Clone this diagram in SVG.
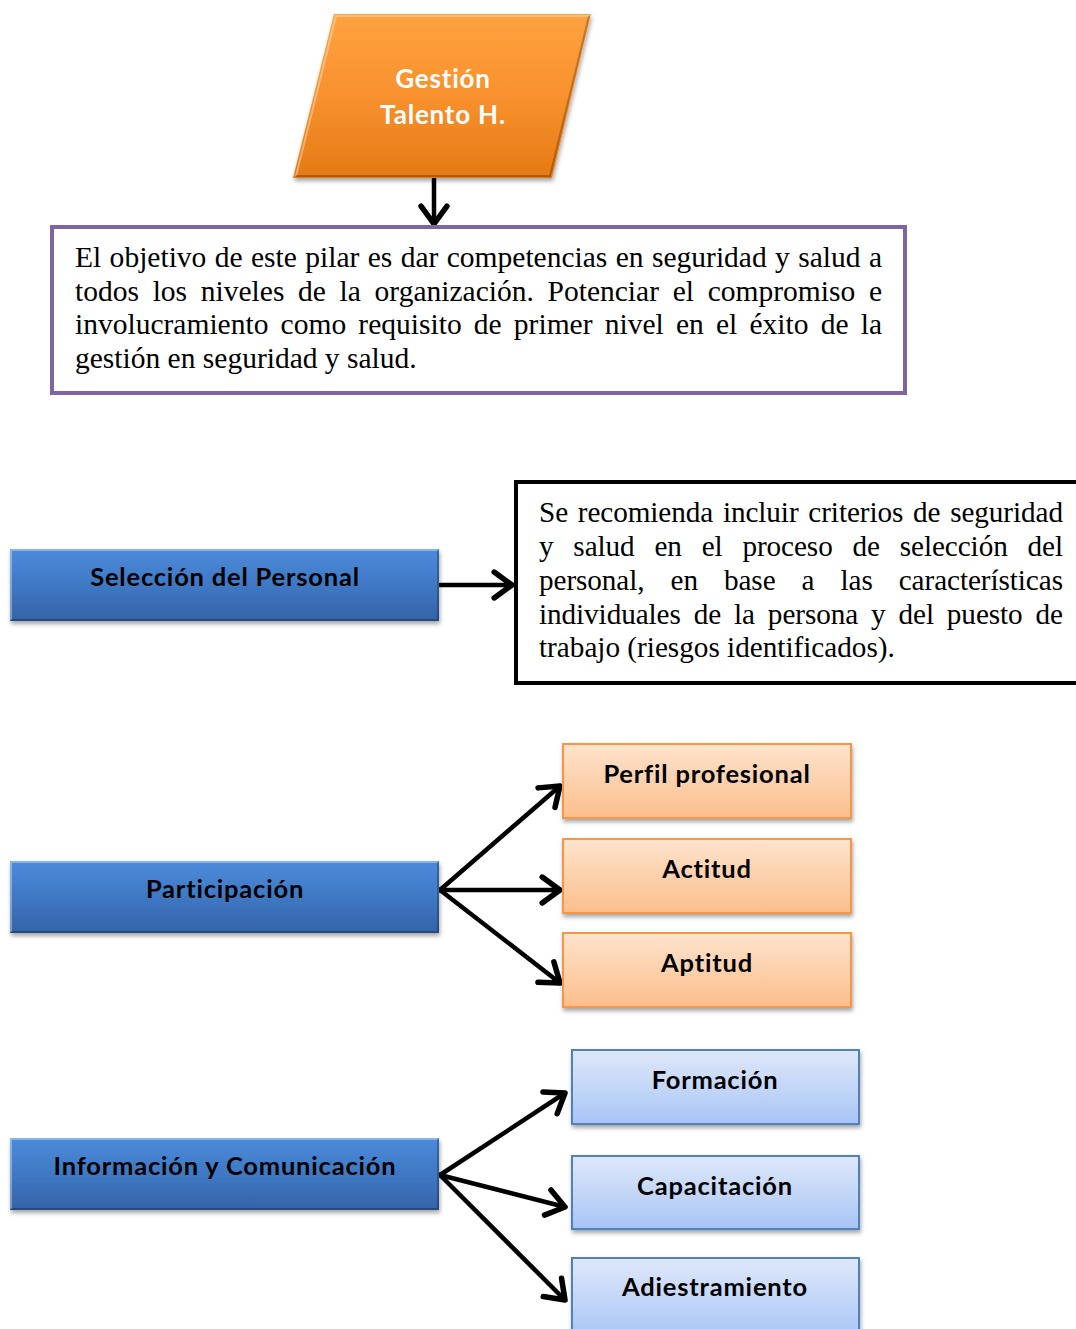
<svg xmlns="http://www.w3.org/2000/svg" width="1076" height="1329" viewBox="0 0 1076 1329">
  <defs>
    <linearGradient id="gOrange" x1="0" y1="0" x2="0" y2="1">
      <stop offset="0" stop-color="#FFA23F"/>
      <stop offset="0.5" stop-color="#F8912E"/>
      <stop offset="1" stop-color="#E57A14"/>
    </linearGradient>
    <linearGradient id="gBlue" x1="0" y1="0" x2="0" y2="1">
      <stop offset="0" stop-color="#4C8BDA"/>
      <stop offset="0.5" stop-color="#3F78C4"/>
      <stop offset="1" stop-color="#3463A8"/>
    </linearGradient>
    <linearGradient id="gPeach" x1="0" y1="0" x2="0" y2="1">
      <stop offset="0" stop-color="#FEE3CD"/>
      <stop offset="1" stop-color="#FBBE8C"/>
    </linearGradient>
    <linearGradient id="gSky" x1="0" y1="0" x2="0" y2="1">
      <stop offset="0" stop-color="#DFE8FA"/>
      <stop offset="1" stop-color="#A8C5F5"/>
    </linearGradient>
    <filter id="shadow" x="-10%" y="-20%" width="120%" height="150%">
      <feDropShadow dx="1" dy="3" stdDeviation="2" flood-color="#000" flood-opacity="0.35"/>
    </filter>
    <marker id="chev" viewBox="0 0 20 20" refX="17" refY="10" markerWidth="7.2" markerHeight="7.2" markerUnits="strokeWidth" orient="auto">
      <polyline points="6,2 17,10 6,18" fill="none" stroke="#000" stroke-width="3.4" stroke-linecap="round" stroke-linejoin="round"/>
    </marker>
    <style>
      .lbl { font-family: Lato, "Open Sans", "Liberation Sans", sans-serif; font-weight: bold; font-size: 25.5px; letter-spacing: 0.8px; text-anchor: middle; fill: #000; }
      .title { font-family: Lato, "Open Sans", "Liberation Sans", sans-serif; font-weight: bold; font-size: 26px; letter-spacing: 0.8px; text-anchor: middle; fill: #fff; }
      .body { font-family: "Liberation Serif", "Times New Roman", serif; font-size: 29.5px; fill: #000; }
      .body2 { font-family: "Liberation Serif", "Times New Roman", serif; font-size: 29.2px; fill: #000; }
      .bevelHi { fill: none; stroke: #ffffff; stroke-opacity: 0.35; stroke-width: 2; }
      .bevelLo { fill: none; stroke: #000000; stroke-opacity: 0.25; stroke-width: 2; }
      .conn { fill: none; stroke: #000; stroke-width: 4.5; stroke-linecap: round; marker-end: url(#chev); }
    </style>
  </defs>

  <rect width="1076" height="1329" fill="#ffffff"/>

  <!-- connectors -->
  <g id="connectors">
    <line class="conn" x1="434" y1="179" x2="434" y2="224"/>
    <line class="conn" x1="440" y1="585" x2="512" y2="585"/>
    <line class="conn" x1="440" y1="890" x2="560" y2="786"/>
    <line class="conn" x1="440" y1="890" x2="560" y2="890"/>
    <line class="conn" x1="440" y1="890" x2="560" y2="983"/>
    <line class="conn" x1="440" y1="1175" x2="565" y2="1093"/>
    <line class="conn" x1="440" y1="1175" x2="565" y2="1207"/>
    <line class="conn" x1="440" y1="1175" x2="565" y2="1300"/>
  </g>

  <!-- top parallelogram -->
  <g id="gestion">
    <polygon points="334,14 591,14 552,178 293,178" fill="url(#gOrange)" filter="url(#shadow)"/>
    <polyline class="bevelHi" points="296,176 336,16 589,16"/>
    <polyline class="bevelLo" points="589,16 550,176 296,176"/>
    <text class="title" x="443" y="88">Gestión</text>
    <text class="title" x="443" y="124">Talento H.</text>
  </g>

  <!-- objective box -->
  <g id="objetivo">
    <rect x="52" y="227" width="853" height="166" fill="#fff" stroke="#8064A2" stroke-width="4"/>
    <text class="body" x="75" y="267" word-spacing="1" textLength="807" lengthAdjust="spacing">El objetivo de este pilar es dar competencias en seguridad y salud a</text>
    <text class="body" x="75" y="301" word-spacing="6.3" textLength="807" lengthAdjust="spacing">todos los niveles de la organización. Potenciar el compromiso e</text>
    <text class="body" x="75" y="334" word-spacing="4.8" textLength="807" lengthAdjust="spacing">involucramiento como requisito de primer nivel en el éxito de la</text>
    <text class="body" x="75" y="368">gestión en seguridad y salud.</text>
  </g>

  <!-- Selección del Personal -->
  <g id="seleccion">
    <rect x="10" y="549" width="429" height="72" fill="url(#gBlue)" filter="url(#shadow)"/>
    <polyline class="bevelHi" points="11,620 11,550 438,550"/>
    <polyline class="bevelLo" points="438,550 438,620 11,620"/>
    <text class="lbl" x="225" y="586">Selección del Personal</text>
  </g>

  <!-- recommendation box -->
  <g id="recomendacion">
    <rect x="516" y="482" width="580" height="201" fill="#fff" stroke="#000" stroke-width="4"/>
    <text class="body2" x="539" y="522" word-spacing="2.6" textLength="524" lengthAdjust="spacing">Se recomienda incluir criterios de seguridad</text>
    <text class="body2" x="539" y="556" word-spacing="12.6" textLength="524" lengthAdjust="spacing">y salud en el proceso de selección del</text>
    <text class="body2" x="539" y="590" word-spacing="18.8" textLength="524" lengthAdjust="spacing">personal, en base a las características</text>
    <text class="body2" x="539" y="624" word-spacing="5.7" textLength="524" lengthAdjust="spacing">individuales de la persona y del puesto de</text>
    <text class="body2" x="539" y="657">trabajo (riesgos identificados).</text>
  </g>

  <!-- Participación -->
  <g id="participacion">
    <rect x="10" y="861" width="429" height="72" fill="url(#gBlue)" filter="url(#shadow)"/>
    <polyline class="bevelHi" points="11,932 11,862 438,862"/>
    <polyline class="bevelLo" points="438,862 438,932 11,932"/>
    <text class="lbl" x="225" y="898">Participación</text>
  </g>

  <g id="perfil">
    <rect x="563" y="744" width="288" height="74" fill="url(#gPeach)" stroke="#F79646" stroke-width="2" filter="url(#shadow)"/>
    <text class="lbl" x="707" y="783">Perfil profesional</text>
  </g>
  <g id="actitud">
    <rect x="563" y="839" width="288" height="74" fill="url(#gPeach)" stroke="#F79646" stroke-width="2" filter="url(#shadow)"/>
    <text class="lbl" x="707" y="878">Actitud</text>
  </g>
  <g id="aptitud">
    <rect x="563" y="933" width="288" height="74" fill="url(#gPeach)" stroke="#F79646" stroke-width="2" filter="url(#shadow)"/>
    <text class="lbl" x="707" y="972">Aptitud</text>
  </g>

  <!-- Información y Comunicación -->
  <g id="informacion">
    <rect x="10" y="1138" width="429" height="72" fill="url(#gBlue)" filter="url(#shadow)"/>
    <polyline class="bevelHi" points="11,1209 11,1139 438,1139"/>
    <polyline class="bevelLo" points="438,1139 438,1209 11,1209"/>
    <text class="lbl" x="225" y="1175">Información y Comunicación</text>
  </g>

  <g id="formacion">
    <rect x="572" y="1050" width="287" height="74" fill="url(#gSky)" stroke="#4F81BD" stroke-width="2" filter="url(#shadow)"/>
    <text class="lbl" x="715" y="1089">Formación</text>
  </g>
  <g id="capacitacion">
    <rect x="572" y="1156" width="287" height="73" fill="url(#gSky)" stroke="#4F81BD" stroke-width="2" filter="url(#shadow)"/>
    <text class="lbl" x="715" y="1195">Capacitación</text>
  </g>
  <g id="adiestramiento">
    <rect x="572" y="1258" width="287" height="80" fill="url(#gSky)" stroke="#4F81BD" stroke-width="2" filter="url(#shadow)"/>
    <text class="lbl" x="715" y="1296">Adiestramiento</text>
  </g>
</svg>
